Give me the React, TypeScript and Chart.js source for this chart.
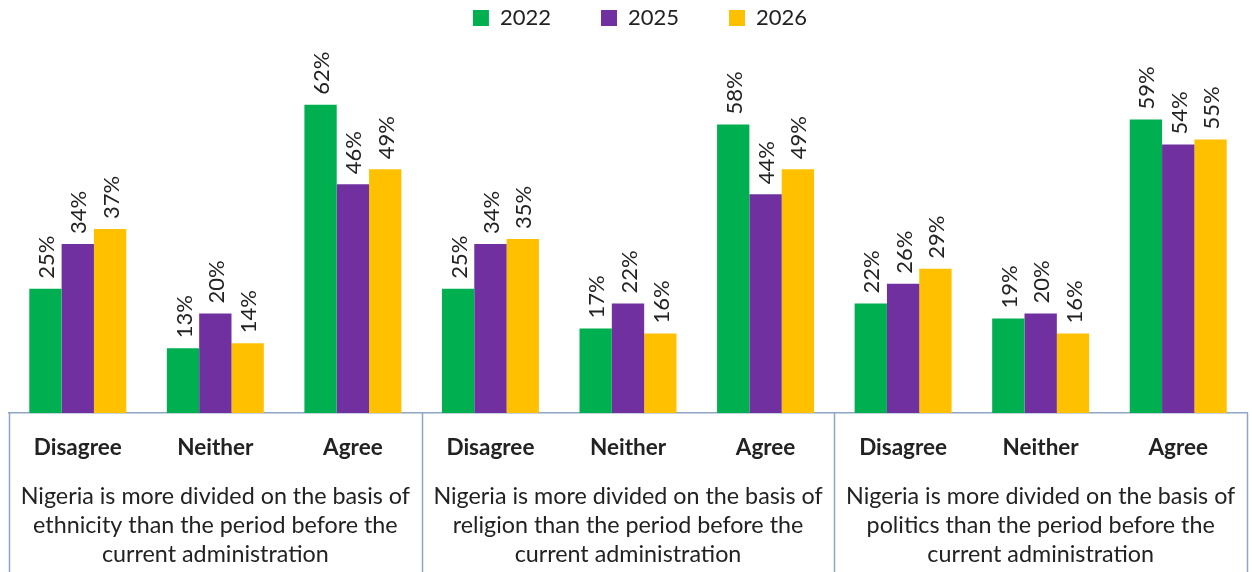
import React, { useEffect, useRef } from "react";
import { Chart, registerables } from "chart.js";

Chart.register(...registerables);

const categories = ["Disagree", "Neither", "Agree", "Disagree", "Neither", "Agree", "Disagree", "Neither", "Agree"];
const groupTitles = [
  ["Nigeria is more divided on the basis of", "ethnicity than the period before the", "current administration"],
  ["Nigeria is more divided on the basis of", "religion than the period before the", "current administration"],
  ["Nigeria is more divided on the basis of", "politics than the period before the", "current administration"],
];
const seriesNames = ["2022", "2025", "2026"];
const values2022 = [25, 13, 62, 25, 17, 58, 22, 19, 59];
const values2025 = [34, 20, 46, 34, 22, 44, 26, 20, 54];
const values2026 = [37, 14, 49, 35, 16, 49, 29, 16, 55];
const seriesColors = ["#00B050", "#7030A0", "#FFC000"];

const FONT = "Lato, 'Open Sans', sans-serif";
const TEXT = "#222222";
const BOX = "#8FA6C4";

const labelPlugin = {
  id: "barLabels",
  afterDatasetsDraw(chart: any) {
    const ctx = chart.ctx;
    ctx.save();
    ctx.font = `22px ${FONT}`;
    ctx.fillStyle = TEXT;
    ctx.textAlign = "left";
    ctx.textBaseline = "middle";
    chart.data.datasets.forEach((ds: any, di: number) => {
      const meta = chart.getDatasetMeta(di);
      meta.data.forEach((bar: any, i: number) => {
        ctx.save();
        ctx.translate(bar.x + 1.5, bar.y - 10);
        ctx.rotate(-Math.PI / 2);
        ctx.fillText(ds.data[i] + "%", 0, 0);
        ctx.restore();
      });
    });
    ctx.restore();
  },
};

const legendShift = {
  id: "legendShift",
  afterLayout(chart: any) {
    const lg = chart.legend;
    if (lg) {
      lg.left += 12;
      lg.right += 12;
    }
  },
};

const boxPlugin = {
  id: "groupBoxes",
  afterDraw(chart: any) {
    const ctx = chart.ctx;
    const x = chart.scales.x;
    const area = chart.chartArea;
    const xs = [area.left];
    for (let g = 1; g < groupTitles.length; g++) {
      const a = x.getPixelForValue(g * 3 - 1);
      const b = x.getPixelForValue(g * 3);
      xs.push((a + b) / 2);
    }
    xs.push(area.right);
    ctx.save();
    ctx.strokeStyle = BOX;
    ctx.lineWidth = 1.5;
    xs.forEach((px) => {
      ctx.beginPath();
      ctx.moveTo(Math.round(px) + 0.5, area.bottom);
      ctx.lineTo(Math.round(px) + 0.5, chart.height);
      ctx.stroke();
    });
    ctx.restore();
  },
};

export default function App() {
  const ref = useRef<HTMLCanvasElement | null>(null);
  useEffect(() => {
    if (!ref.current) return;
    const values = [values2022, values2025, values2026];
    const chart = new Chart(ref.current, {
      type: "bar",
      data: {
        labels: categories,
        datasets: seriesNames.map((name, i) => ({
          label: name,
          data: values[i],
          backgroundColor: seriesColors[i],
          borderWidth: 0,
          categoryPercentage: 0.705,
          barPercentage: 1,
          xAxisID: "x",
        })),
      },
      options: {
        animation: false,
        responsive: true,
        maintainAspectRatio: false,
        layout: { padding: { left: 9, right: 5, top: -43, bottom: 3 } },
        plugins: {
          legend: {
            position: "top",
            labels: {
              boxWidth: 16,
              boxHeight: 16,
              padding: 50,
              color: TEXT,
              font: { family: FONT, size: 22 },
            },
          },
          tooltip: { enabled: false },
        },
        scales: {
          x: {
            type: "category",
            position: "bottom",
            weight: 0,
            grid: { display: false, drawTicks: false },
            border: { display: true, color: BOX, width: 1.5 },
            ticks: {
              color: TEXT,
              font: { family: FONT, size: 22.5, weight: "bold" },
              padding: 21,
              autoSkip: false,
              maxRotation: 0,
            },
          },
          x2: {
            type: "category",
            position: "bottom",
            weight: 1,
            labels: groupTitles as any,
            offset: true,
            grid: { display: false, drawTicks: false },
            border: { display: false },
            ticks: {
              color: TEXT,
              font: { family: FONT, size: 23.3, lineHeight: "29px" },
              padding: 0,
              autoSkip: false,
              maxRotation: 0,
            },
          },
          y: {
            display: false,
            min: 0,
            max: 75.2,
          },
        },
      },
      plugins: [labelPlugin, boxPlugin, legendShift],
    });
    return () => chart.destroy();
  }, []);
  return (
    <div style={{ position: "fixed", left: 0, top: 0, width: 1252, height: 572, background: "#fff" }}>
      <canvas ref={ref} />
    </div>
  );
}
